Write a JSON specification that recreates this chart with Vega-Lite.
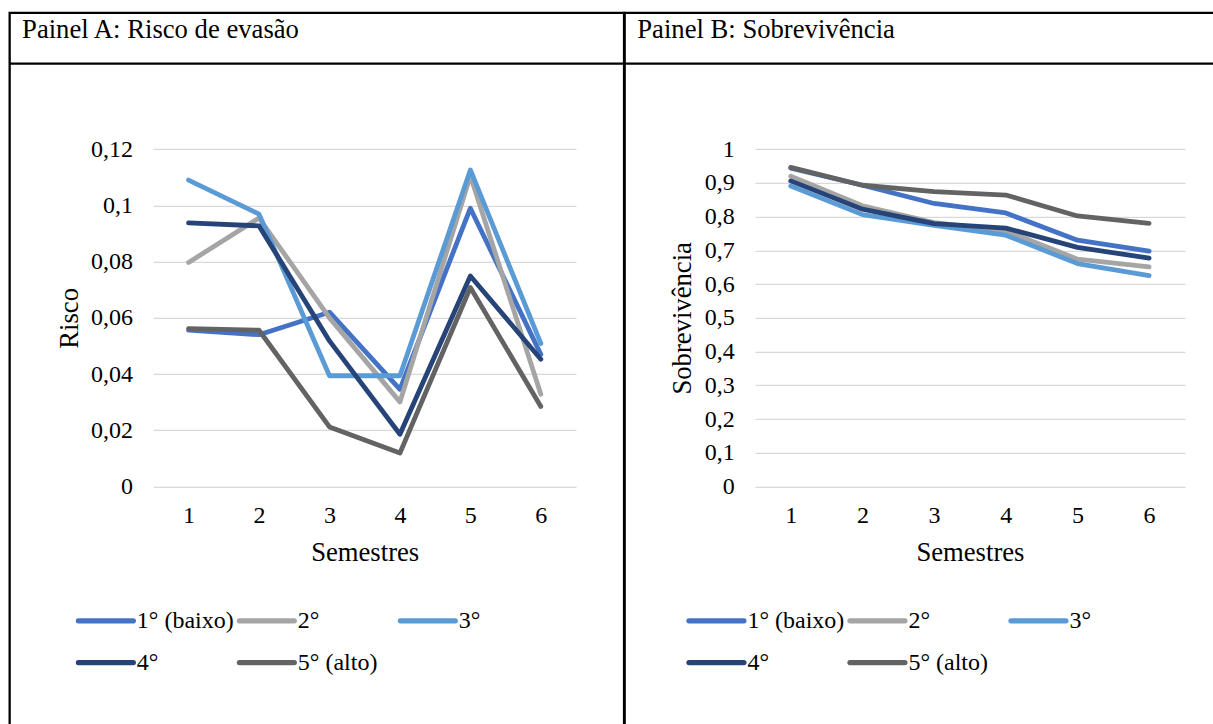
{
  "$schema": "https://vega.github.io/schema/vega-lite/v6.json",
  "padding": {"left": 6.65, "top": 10.85, "right": 0, "bottom": 0},
  "background": "white",
  "config": {
    "view": {"stroke": "#000000", "strokeWidth": 2.3},
    "font": "Liberation Serif",
    "axis": {"labelFont": "Liberation Serif", "titleFont": "Liberation Serif", "labelFontSize": 24, "titleFontSize": 26.67, "titleFontWeight": "normal", "labelColor": "#000000", "titleColor": "#000000", "gridColor": "#D9D9D9", "gridWidth": 1.4, "domain": false, "ticks": false},
    "legend": {"labelFont": "Liberation Serif", "labelFontSize": 24, "labelColor": "#000000"}
  },
  "datasets": {
    "risco": [
      {"semestre": 1, "quintil": "1° (baixo)", "valor": 0.0556},
      {"semestre": 2, "quintil": "1° (baixo)", "valor": 0.0540},
      {"semestre": 3, "quintil": "1° (baixo)", "valor": 0.0620},
      {"semestre": 4, "quintil": "1° (baixo)", "valor": 0.0346},
      {"semestre": 5, "quintil": "1° (baixo)", "valor": 0.0990},
      {"semestre": 6, "quintil": "1° (baixo)", "valor": 0.0470},
      {"semestre": 1, "quintil": "2°", "valor": 0.0797},
      {"semestre": 2, "quintil": "2°", "valor": 0.0955},
      {"semestre": 3, "quintil": "2°", "valor": 0.0600},
      {"semestre": 4, "quintil": "2°", "valor": 0.0301},
      {"semestre": 5, "quintil": "2°", "valor": 0.1105},
      {"semestre": 6, "quintil": "2°", "valor": 0.0328},
      {"semestre": 1, "quintil": "3°", "valor": 0.1090},
      {"semestre": 2, "quintil": "3°", "valor": 0.0969},
      {"semestre": 3, "quintil": "3°", "valor": 0.0394},
      {"semestre": 4, "quintil": "3°", "valor": 0.0394},
      {"semestre": 5, "quintil": "3°", "valor": 0.1126},
      {"semestre": 6, "quintil": "3°", "valor": 0.0509},
      {"semestre": 1, "quintil": "4°", "valor": 0.0938},
      {"semestre": 2, "quintil": "4°", "valor": 0.0927},
      {"semestre": 3, "quintil": "4°", "valor": 0.0518},
      {"semestre": 4, "quintil": "4°", "valor": 0.0186},
      {"semestre": 5, "quintil": "4°", "valor": 0.0749},
      {"semestre": 6, "quintil": "4°", "valor": 0.0453},
      {"semestre": 1, "quintil": "5° (alto)", "valor": 0.0562},
      {"semestre": 2, "quintil": "5° (alto)", "valor": 0.0556},
      {"semestre": 3, "quintil": "5° (alto)", "valor": 0.0212},
      {"semestre": 4, "quintil": "5° (alto)", "valor": 0.0119},
      {"semestre": 5, "quintil": "5° (alto)", "valor": 0.0708},
      {"semestre": 6, "quintil": "5° (alto)", "valor": 0.0285}
    ],
    "sobrev": [
      {"semestre": 1, "quintil": "1° (baixo)", "valor": 0.944},
      {"semestre": 2, "quintil": "1° (baixo)", "valor": 0.893},
      {"semestre": 3, "quintil": "1° (baixo)", "valor": 0.839},
      {"semestre": 4, "quintil": "1° (baixo)", "valor": 0.811},
      {"semestre": 5, "quintil": "1° (baixo)", "valor": 0.730},
      {"semestre": 6, "quintil": "1° (baixo)", "valor": 0.698},
      {"semestre": 1, "quintil": "2°", "valor": 0.920},
      {"semestre": 2, "quintil": "2°", "valor": 0.832},
      {"semestre": 3, "quintil": "2°", "valor": 0.782},
      {"semestre": 4, "quintil": "2°", "valor": 0.758},
      {"semestre": 5, "quintil": "2°", "valor": 0.674},
      {"semestre": 6, "quintil": "2°", "valor": 0.651},
      {"semestre": 1, "quintil": "3°", "valor": 0.891},
      {"semestre": 2, "quintil": "3°", "valor": 0.806},
      {"semestre": 3, "quintil": "3°", "valor": 0.774},
      {"semestre": 4, "quintil": "3°", "valor": 0.745},
      {"semestre": 5, "quintil": "3°", "valor": 0.661},
      {"semestre": 6, "quintil": "3°", "valor": 0.625},
      {"semestre": 1, "quintil": "4°", "valor": 0.906},
      {"semestre": 2, "quintil": "4°", "valor": 0.822},
      {"semestre": 3, "quintil": "4°", "valor": 0.779},
      {"semestre": 4, "quintil": "4°", "valor": 0.766},
      {"semestre": 5, "quintil": "4°", "valor": 0.709},
      {"semestre": 6, "quintil": "4°", "valor": 0.677},
      {"semestre": 1, "quintil": "5° (alto)", "valor": 0.946},
      {"semestre": 2, "quintil": "5° (alto)", "valor": 0.893},
      {"semestre": 3, "quintil": "5° (alto)", "valor": 0.874},
      {"semestre": 4, "quintil": "5° (alto)", "valor": 0.864},
      {"semestre": 5, "quintil": "5° (alto)", "valor": 0.802},
      {"semestre": 6, "quintil": "5° (alto)", "valor": 0.780}
    ]
  },
  "spacing": 0,
  "bounds": "flush",
  "resolve": {"scale": {"color": "independent"}, "legend": {"color": "independent"}},
  "hconcat": [
    {
      "width": 614.4, "height": 720,
      "title": {"text": "Painel A: Risco de evasão", "anchor": "start", "frame": "group", "orient": "top", "offset": -51.8, "baseline": "alphabetic", "dx": 12.4, "font": "Liberation Serif", "fontSize": 26.67, "fontWeight": "normal", "color": "#000000"},
      "layer": [
        {
          "data": {"values": [{"linha": 0.150409}]},
          "mark": {"type": "rule", "color": "#000000", "strokeWidth": 2.3},
          "encoding": {"y": {"field": "linha", "type": "quantitative"}}
        },
        {
          "data": {"name": "risco"},
          "mark": {"type": "line", "strokeWidth": 4.8, "strokeCap": "round", "strokeJoin": "round"},
          "encoding": {
            "x": {"field": "semestre", "type": "ordinal",
              "scale": {"type": "point", "padding": 0.5, "range": [143.7, 566.4]},
              "axis": {"title": "Semestres", "labelAngle": 0, "offset": -246.3, "labelBaseline": "alphabetic", "labelPadding": 36, "titleBaseline": "alphabetic", "titleY": 74, "grid": false}},
            "y": {"field": "valor", "type": "quantitative",
              "scale": {"domain": [0, 0.12], "range": [473.7, 136.3], "nice": false, "zero": true},
              "axis": {"title": "Risco", "values": [0, 0.02, 0.04, 0.06, 0.08, 0.1, 0.12], "labelExpr": "replace(format(datum.value, '.2~f'), '.', ',')", "offset": -143.7, "labelPadding": 20.8, "titleX": -75.5, "titleY": 305, "titleBaseline": "alphabetic", "titleAngle": 270, "grid": true}},
            "color": {"field": "quintil", "type": "nominal",
              "scale": {"domain": ["1° (baixo)", "2°", "3°", "4°", "5° (alto)"], "range": ["#4472C4", "#A5A5A5", "#5B9BD5", "#264478", "#636363"]},
              "legend": {"title": null, "orient": "none", "legendX": 65.7, "legendY": 596, "columns": 3, "direction": "horizontal", "symbolType": "stroke", "symbolSize": 3025, "symbolStrokeWidth": 5.2, "clipHeight": 24, "labelOffset": 0.5, "columnPadding": 2, "rowPadding": 17.7, "gridAlign": "all", "padding": 0, "labelLimit": 300,
                "encode": {"symbols": {"update": {"strokeCap": {"value": "round"}}}}}}
          }
        }
      ]
    },
    {
      "width": 614.4, "height": 720,
      "title": {"text": "Painel B: Sobrevivência", "anchor": "start", "frame": "group", "orient": "top", "offset": -51.8, "baseline": "alphabetic", "dx": 12.6, "font": "Liberation Serif", "fontSize": 26.67, "fontWeight": "normal", "color": "#000000"},
      "layer": [
        {
          "data": {"values": [{"linha": 1.253408}]},
          "mark": {"type": "rule", "color": "#000000", "strokeWidth": 2.3},
          "encoding": {"y": {"field": "linha", "type": "quantitative"}}
        },
        {
          "data": {"name": "sobrev"},
          "mark": {"type": "line", "strokeWidth": 4.8, "strokeCap": "round", "strokeJoin": "round"},
          "encoding": {
            "x": {"field": "semestre", "type": "ordinal",
              "scale": {"type": "point", "padding": 0.5, "range": [130.3, 560.3]},
              "axis": {"title": "Semestres", "labelAngle": 0, "offset": -246.3, "labelBaseline": "alphabetic", "labelPadding": 36, "titleBaseline": "alphabetic", "titleY": 74, "grid": false}},
            "y": {"field": "valor", "type": "quantitative",
              "scale": {"domain": [0, 1], "range": [473.7, 136.3], "nice": false, "zero": true},
              "axis": {"title": "Sobrevivência", "values": [0, 0.1, 0.2, 0.3, 0.4, 0.5, 0.6, 0.7, 0.8, 0.9, 1], "labelExpr": "replace(format(datum.value, '.1~f'), '.', ',')", "offset": -130.3, "labelPadding": 20.8, "titleX": -64.1, "titleY": 305, "titleBaseline": "alphabetic", "titleAngle": 270, "grid": true}},
            "color": {"field": "quintil", "type": "nominal",
              "scale": {"domain": ["1° (baixo)", "2°", "3°", "4°", "5° (alto)"], "range": ["#4472C4", "#A5A5A5", "#5B9BD5", "#264478", "#636363"]},
              "legend": {"title": null, "orient": "none", "legendX": 61.3, "legendY": 596, "columns": 3, "direction": "horizontal", "symbolType": "stroke", "symbolSize": 3025, "symbolStrokeWidth": 5.2, "clipHeight": 24, "labelOffset": 0.5, "columnPadding": 2, "rowPadding": 17.7, "gridAlign": "all", "padding": 0, "labelLimit": 300,
                "encode": {"symbols": {"update": {"strokeCap": {"value": "round"}}}}}}
          }
        }
      ]
    }
  ]
}
